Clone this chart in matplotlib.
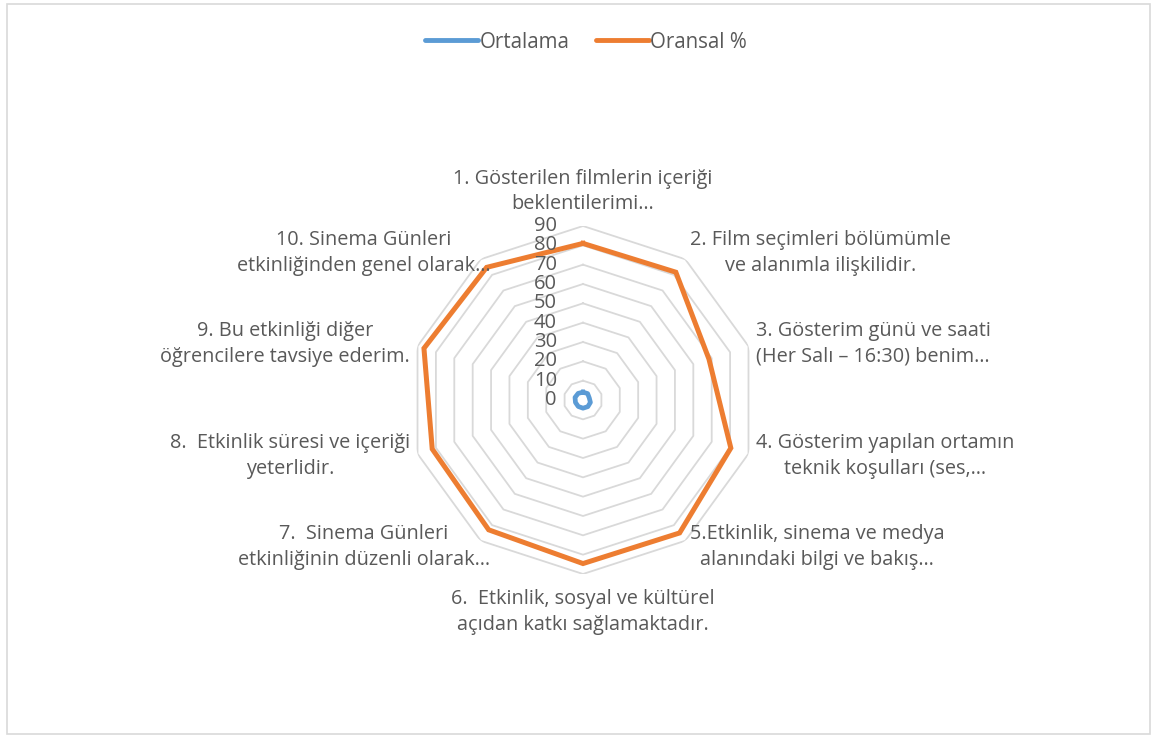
import numpy as np
import matplotlib
matplotlib.use("Agg")
import matplotlib.pyplot as plt
from matplotlib.patches import Rectangle
from matplotlib.transforms import offset_copy

plt.rcParams['font.family'] = ['Open Sans', 'DejaVu Sans']

categories = [
    "1. Gösterilen filmlerin içeriği\nbeklentilerimi…",
    "2. Film seçimleri bölümümle\nve alanımla ilişkilidir.",
    "3. Gösterim günü ve saati\n(Her Salı – 16:30) benim…",
    "4. Gösterim yapılan ortamın\nteknik koşulları (ses,…",
    "5.Etkinlik, sinema ve medya\nalanındaki bilgi ve bakış…",
    "6.  Etkinlik, sosyal ve kültürel\naçıdan katkı sağlamaktadır.",
    "7.  Sinema Günleri\netkinliğinin düzenli olarak…",
    "8.  Etkinlik süresi ve içeriği\nyeterlidir.",
    "9. Bu etkinliği diğer\nöğrencilere tavsiye ederim.",
    "10. Sinema Günleri\netkinliğinden genel olarak…",
]
ortalama = [4.05, 4.09, 3.42, 4.02, 4.25, 4.23, 4.15, 4.10, 4.33, 4.24]
oransal = [81.0, 81.7, 68.5, 80.4, 85.0, 84.6, 83.0, 82.0, 86.5, 84.8]
ring_ticks = [0, 10, 20, 30, 40, 50, 60, 70, 80, 90]
series_names = ["Ortalama", "Oransal %"]

W, H = 1155, 736
fig = plt.figure(figsize=(W / 100, H / 100), dpi=100)

cx, cy, R = 583, 400, 174
ax = fig.add_axes([(cx - R) / W, (H - cy - R) / H, 2 * R / W, 2 * R / H], projection='polar')
ax.set_theta_zero_location('N')
ax.set_theta_direction(-1)
ax.set_ylim(0, 90)
ax.grid(False)
ax.spines['polar'].set_visible(False)
ax.set_xticks([])
ax.set_yticks([])
ax.patch.set_alpha(0)

n = len(categories)
theta = np.linspace(0, 2 * np.pi, n, endpoint=False)
theta_c = np.append(theta, theta[0])

grid_col = '#d9d9d9'
for t in ring_ticks[1:]:
    ax.plot(theta_c, [t] * (n + 1), color=grid_col, lw=1.3, zorder=1)

c_blue = '#5B9BD5'
c_orange = '#ED7D31'
l1, = ax.plot(theta_c, ortalama + ortalama[:1], color=c_blue, lw=3.4, zorder=3,
              solid_joinstyle='round')
l2, = ax.plot(theta_c, oransal + oransal[:1], color=c_orange, lw=3.6, zorder=3,
              solid_joinstyle='miter')

txt_col = '#595959'
tr = offset_copy(ax.transData, fig=fig, x=-26, y=0, units='dots')
for t in ring_ticks:
    ax.text(0, t, str(t), transform=tr, ha='right', va='center',
            fontsize=14.5, color=txt_col, zorder=4)

for ang, lab in zip(theta, categories):
    deg = np.degrees(ang)
    dx = 0
    if abs(deg) < 1:
        ha, va, r = 'center', 'bottom', 96
    elif abs(deg - 180) < 1:
        ha, va, r = 'center', 'top', 98
    elif deg < 180:
        ha, va, r = 'left', 'center', 94
    else:
        ha, va, r = 'right', 'center', 94
        if abs(deg - 216) < 1 or abs(deg - 324) < 1:
            dx = 14
    ax.text(ang, r, lab, ha=ha, va=va, multialignment='center',
            transform=offset_copy(ax.transData, fig=fig, x=dx, y=0, units='dots'),
            fontsize=14.3, color=txt_col, linespacing=1.38)

leg = fig.legend([l1, l2], series_names, loc='center', bbox_to_anchor=(586 / W, 1 - 42 / H),
                 ncol=2, frameon=False, fontsize=14.8, handlelength=2.6, handletextpad=0.05,
                 columnspacing=1.3, labelcolor=txt_col)
for h in leg.get_lines():
    h.set_linewidth(3.5)
    h.set_solid_capstyle('round')

fig.patches.append(Rectangle((7 / W, 2 / H), (1150 - 7) / W, (733 - 3) / H,
                             transform=fig.transFigure, fill=False,
                             edgecolor='#d9d9d9', lw=1.2))

fig.savefig('out.png', dpi=100, facecolor='white')
